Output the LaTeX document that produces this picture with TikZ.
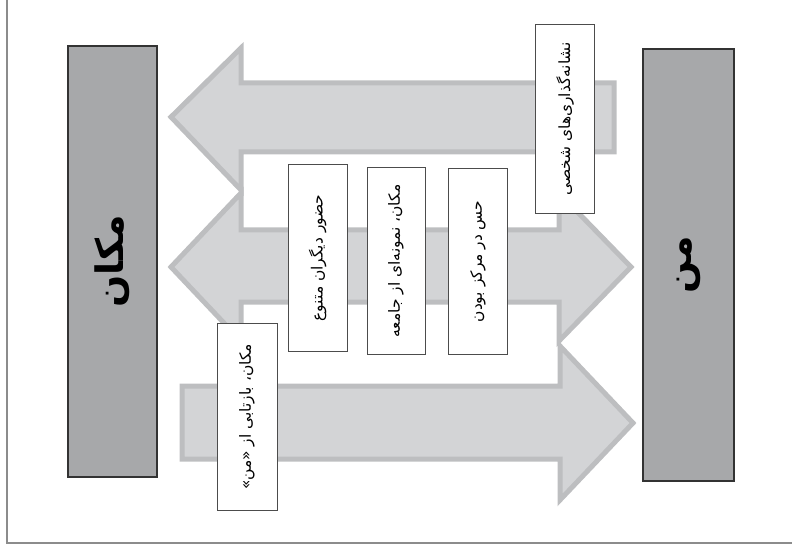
\documentclass[tikz,border=0pt]{standalone}
\usepackage{fontspec}
\newfontfamily\arabicfont[Script=Arabic]{DejaVu Sans}
\TeXXeTstate=1
\usetikzlibrary{positioning}
\definecolor{barfill}{HTML}{A7A8AA}
\definecolor{arrowfill}{HTML}{D3D4D6}
\definecolor{arrowline}{HTML}{BDBEC0}
\definecolor{frameline}{HTML}{8C8C8C}
\tikzset{
	bar/.style = {draw=black!80, line width=1.5bp, fill=barfill, rectangle, rotate=90,
		inner sep=0pt, font=\arabicfont\bfseries\fontsize{38}{40}\selectfont},
	note/.style = {draw=black!70, line width=1bp, fill=white, rectangle, rotate=90,
		minimum height=59bp, minimum width=186bp, inner sep=0pt,
		font=\arabicfont\fontsize{15.5}{17}\selectfont},
	bigarrow/.style = {draw=arrowline, line width=5bp, fill=arrowfill, line join=miter}
}

\begin{document}
\begin{tikzpicture}[x=1bp,y=-1bp]
	\useasboundingbox (0,0) rectangle (792,554);
	% frame
	\draw[frameline, line width=1.5bp] (7,0) -- (7,543) -- (792,543);
	% arrows
	\draw[bigarrow] (171,117) -- (241,48) -- (241,83) -- (614,83) -- (614,152)
		-- (241,152) -- (241,190) -- cycle;
	\draw[bigarrow] (171,267) -- (241,193) -- (241,230) -- (559,230) -- (559,193)
		-- (631,267) -- (559,341) -- (559,302) -- (241,302) -- (241,341) -- cycle;
	\draw[bigarrow] (182,386) -- (560,386) -- (560,346) -- (633,423) -- (560,500)
		-- (560,459) -- (182,459) -- cycle;
	% bars
	\node (place) [bar, minimum width=431bp, minimum height=89bp] at (112.5,261.5) {\beginR مکان\endR};
	\node (self) [bar, minimum width=432bp, minimum height=91bp] at (688.5,265) {\beginR من\endR};
	% notes
	\node (marks) [note, minimum width=188bp] at (565,119) {\beginR نشانه‌گذاری‌های شخصی\endR};
	\node (centre) [note] at (478,261.5) {\beginR حس در مرکز بودن\endR};
	\node (sample) [note, minimum height=58bp] at (396,261) {\beginR مکان، نمونه‌ای از جامعه\endR};
	\node (others) [note] at (317.5,258) {\beginR حضور دیگران متنوع\endR};
	\node (mirror) [note, minimum height=60bp] at (247,417) {\beginR مکان، بازتابی از «من»\endR};
\end{tikzpicture}
\end{document}
